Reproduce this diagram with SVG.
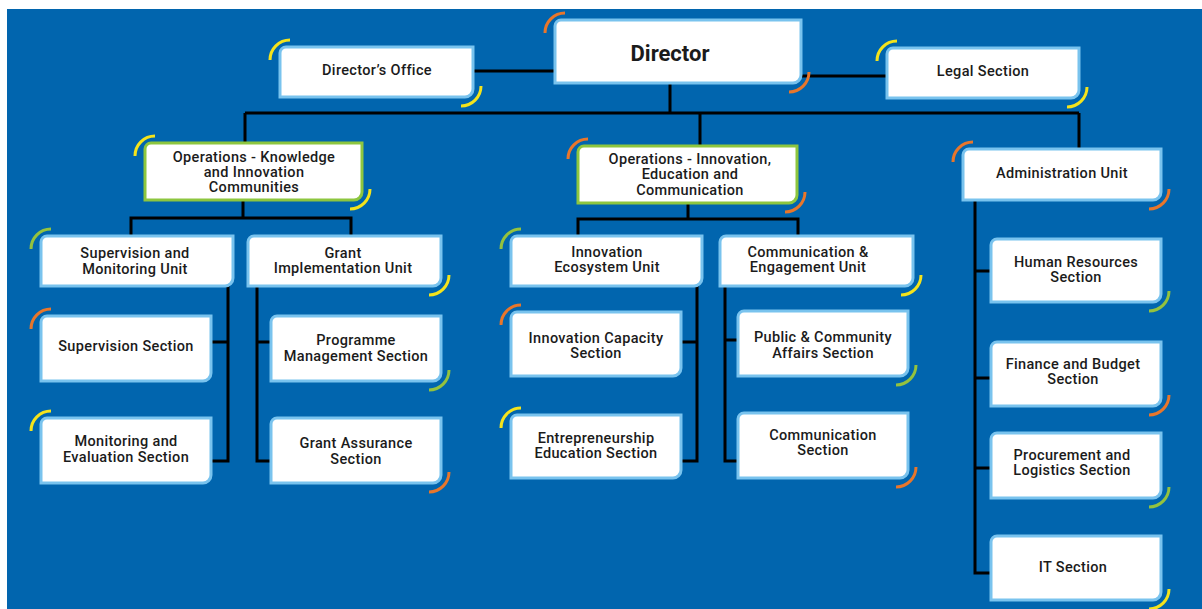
<svg xmlns="http://www.w3.org/2000/svg" width="1202" height="609" viewBox="0 0 1202 609">
  <style>
    .box { fill: #ffffff; stroke: #79c3ee; stroke-width: 3; }
    .box.ops { stroke: #8dc63f; }
    .lbl { font-family: Roboto, "Liberation Sans", sans-serif; font-weight: 500; font-size: 14.5px; letter-spacing: 0.35px; fill: #1b1b1b; text-anchor: middle; }
    .big { font-size: 22px; font-weight: 700; letter-spacing: 0; }
    .link { fill: none; stroke: #000000; stroke-width: 3; }
    .acc { fill: none; stroke-width: 3; stroke-linecap: butt; }
    .y { stroke: #f4e31c; }
    .o { stroke: #e8762b; }
    .g { stroke: #94c23e; }
  </style>

  <!-- page -->
  <rect x="0" y="0" width="1202" height="609" fill="#ffffff"/>
  <rect x="7" y="9" width="1195" height="600" fill="#0165ae"/>

  <!-- connectors -->
  <g id="connectors" class="link">
    <path d="M473,71 H555"/>
    <path d="M801,76 H887"/>
    <path d="M670,83 V113"/>
    <path d="M245,113 H1079"/>
    <path d="M245,113 V143"/>
    <path d="M700,113 V146"/>
    <path d="M1079,113 V149"/>
    <path d="M243,200 V218"/>
    <path d="M131,236 V218 H351 V236"/>
    <path d="M688,203 V219"/>
    <path d="M578,236 V219 H798 V236"/>
    <path d="M228,286 V461 H211"/>
    <path d="M211,342 H228"/>
    <path d="M257,286 V461 H271"/>
    <path d="M257,342 H271"/>
    <path d="M697,286 V461 H681"/>
    <path d="M681,342 H697"/>
    <path d="M725,286 V461 H738"/>
    <path d="M725,340 H738"/>
    <path d="M975,200 V573 H991"/>
    <path d="M975,271 H991"/>
    <path d="M975,378 H991"/>
    <path d="M975,468 H991"/>
  </g>

  <!-- nodes -->
  <g id="director">
    <path class="box" d="M561,20 H801 V75 A8,8 0 0 1 793,83 H555 V26 A6,6 0 0 1 561,20 Z"/>
    <path class="acc o" d="M545,33 A20,20 0 0 1 565,13"/>
    <path class="acc o" d="M809,72 A20,20 0 0 1 789,92"/>
    <text class="lbl big" x="670" y="61">Director</text>
  </g>

  <g id="directors-office">
    <path class="box" d="M286,47 H473 V89 A8,8 0 0 1 465,97 H280 V53 A6,6 0 0 1 286,47 Z"/>
    <path class="acc y" d="M270,60 A20,20 0 0 1 290,40"/>
    <path class="acc y" d="M481,86 A20,20 0 0 1 461,106"/>
    <text class="lbl" x="377" y="75">Director’s Office</text>
  </g>

  <g id="legal-section">
    <path class="box" d="M893,48 H1079 V90 A8,8 0 0 1 1071,98 H887 V54 A6,6 0 0 1 893,48 Z"/>
    <path class="acc y" d="M877,61 A20,20 0 0 1 897,41"/>
    <path class="acc y" d="M1087,87 A20,20 0 0 1 1067,107"/>
    <text class="lbl" x="983" y="76">Legal Section</text>
  </g>

  <g id="ops-kic">
    <path class="box ops" d="M151,143 H362 V192 A8,8 0 0 1 354,200 H145 V149 A6,6 0 0 1 151,143 Z"/>
    <path class="acc y" d="M135,156 A20,20 0 0 1 155,136"/>
    <path class="acc y" d="M370,189 A20,20 0 0 1 350,209"/>
    <text class="lbl" x="254" y="162">Operations - Knowledge</text>
    <text class="lbl" x="254" y="177">and Innovation</text>
    <text class="lbl" x="254" y="192">Communities</text>
  </g>

  <g id="ops-iec">
    <path class="box ops" d="M584,146 H797 V195 A8,8 0 0 1 789,203 H578 V152 A6,6 0 0 1 584,146 Z"/>
    <path class="acc o" d="M568,159 A20,20 0 0 1 588,139"/>
    <path class="acc o" d="M805,192 A20,20 0 0 1 785,212"/>
    <text class="lbl" x="690" y="164">Operations - Innovation,</text>
    <text class="lbl" x="690" y="179">Education and</text>
    <text class="lbl" x="690" y="195">Communication</text>
  </g>

  <g id="administration-unit">
    <path class="box" d="M969,149 H1161 V192 A8,8 0 0 1 1153,200 H963 V155 A6,6 0 0 1 969,149 Z"/>
    <path class="acc o" d="M953,162 A20,20 0 0 1 973,142"/>
    <path class="acc o" d="M1169,189 A20,20 0 0 1 1149,209"/>
    <text class="lbl" x="1062" y="178">Administration Unit</text>
  </g>

  <g id="supervision-monitoring-unit">
    <path class="box" d="M47,236 H233 V278 A8,8 0 0 1 225,286 H41 V242 A6,6 0 0 1 47,236 Z"/>
    <path class="acc g" d="M31,249 A20,20 0 0 1 51,229"/>
    <text class="lbl" x="135" y="258">Supervision and</text>
    <text class="lbl" x="135" y="274">Monitoring Unit</text>
  </g>

  <g id="grant-implementation-unit">
    <path class="box" d="M254,236 H441 V278 A8,8 0 0 1 433,286 H248 V242 A6,6 0 0 1 254,236 Z"/>
    <path class="acc y" d="M449,275 A20,20 0 0 1 429,295"/>
    <text class="lbl" x="343" y="258">Grant</text>
    <text class="lbl" x="343" y="273">Implementation Unit</text>
  </g>

  <g id="supervision-section">
    <path class="box" d="M47,316 H211 V373 A8,8 0 0 1 203,381 H41 V322 A6,6 0 0 1 47,316 Z"/>
    <path class="acc o" d="M31,329 A20,20 0 0 1 51,309"/>
    <text class="lbl" x="126" y="351">Supervision Section</text>
  </g>

  <g id="monitoring-evaluation-section">
    <path class="box" d="M47,418 H211 V475 A8,8 0 0 1 203,483 H41 V424 A6,6 0 0 1 47,418 Z"/>
    <path class="acc y" d="M31,431 A20,20 0 0 1 51,411"/>
    <text class="lbl" x="126" y="446">Monitoring and</text>
    <text class="lbl" x="126" y="462">Evaluation Section</text>
  </g>

  <g id="programme-management-section">
    <path class="box" d="M277,316 H441 V373 A8,8 0 0 1 433,381 H271 V322 A6,6 0 0 1 277,316 Z"/>
    <path class="acc g" d="M449,370 A20,20 0 0 1 429,390"/>
    <text class="lbl" x="356" y="345">Programme</text>
    <text class="lbl" x="356" y="361">Management Section</text>
  </g>

  <g id="grant-assurance-section">
    <path class="box" d="M277,418 H441 V475 A8,8 0 0 1 433,483 H271 V424 A6,6 0 0 1 277,418 Z"/>
    <path class="acc o" d="M449,472 A20,20 0 0 1 429,492"/>
    <text class="lbl" x="356" y="448">Grant Assurance</text>
    <text class="lbl" x="356" y="464">Section</text>
  </g>

  <g id="innovation-ecosystem-unit">
    <path class="box" d="M517,236 H702 V278 A8,8 0 0 1 694,286 H511 V242 A6,6 0 0 1 517,236 Z"/>
    <path class="acc g" d="M501,249 A20,20 0 0 1 521,229"/>
    <text class="lbl" x="607" y="257">Innovation</text>
    <text class="lbl" x="607" y="272">Ecosystem Unit</text>
  </g>

  <g id="communication-engagement-unit">
    <path class="box" d="M726,236 H913 V278 A8,8 0 0 1 905,286 H720 V242 A6,6 0 0 1 726,236 Z"/>
    <path class="acc y" d="M921,275 A20,20 0 0 1 901,295"/>
    <text class="lbl" x="808" y="257">Communication &amp;</text>
    <text class="lbl" x="808" y="272">Engagement Unit</text>
  </g>

  <g id="innovation-capacity-section">
    <path class="box" d="M517,312 H681 V368 A8,8 0 0 1 673,376 H511 V318 A6,6 0 0 1 517,312 Z"/>
    <path class="acc o" d="M501,325 A20,20 0 0 1 521,305"/>
    <text class="lbl" x="596" y="343">Innovation Capacity</text>
    <text class="lbl" x="596" y="358">Section</text>
  </g>

  <g id="entrepreneurship-education-section">
    <path class="box" d="M517,415 H681 V470 A8,8 0 0 1 673,478 H511 V421 A6,6 0 0 1 517,415 Z"/>
    <path class="acc y" d="M501,428 A20,20 0 0 1 521,408"/>
    <text class="lbl" x="596" y="443">Entrepreneurship</text>
    <text class="lbl" x="596" y="458">Education Section</text>
  </g>

  <g id="public-community-affairs-section">
    <path class="box" d="M744,311 H908 V368 A8,8 0 0 1 900,376 H738 V317 A6,6 0 0 1 744,311 Z"/>
    <path class="acc g" d="M916,365 A20,20 0 0 1 896,385"/>
    <text class="lbl" x="823" y="342">Public &amp; Community</text>
    <text class="lbl" x="823" y="358">Affairs Section</text>
  </g>

  <g id="communication-section">
    <path class="box" d="M744,413 H908 V470 A8,8 0 0 1 900,478 H738 V419 A6,6 0 0 1 744,413 Z"/>
    <path class="acc o" d="M916,467 A20,20 0 0 1 896,487"/>
    <text class="lbl" x="823" y="440">Communication</text>
    <text class="lbl" x="823" y="455">Section</text>
  </g>

  <g id="human-resources-section">
    <path class="box" d="M997,239 H1161 V294 A8,8 0 0 1 1153,302 H991 V245 A6,6 0 0 1 997,239 Z"/>
    <path class="acc g" d="M1169,291 A20,20 0 0 1 1149,311"/>
    <text class="lbl" x="1076" y="267">Human Resources</text>
    <text class="lbl" x="1076" y="282">Section</text>
  </g>

  <g id="finance-budget-section">
    <path class="box" d="M997,342 H1161 V398 A8,8 0 0 1 1153,406 H991 V348 A6,6 0 0 1 997,342 Z"/>
    <path class="acc o" d="M1169,395 A20,20 0 0 1 1149,415"/>
    <text class="lbl" x="1073" y="369">Finance and Budget</text>
    <text class="lbl" x="1073" y="384">Section</text>
  </g>

  <g id="procurement-logistics-section">
    <path class="box" d="M997,433 H1161 V490 A8,8 0 0 1 1153,498 H991 V439 A6,6 0 0 1 997,433 Z"/>
    <path class="acc g" d="M1169,487 A20,20 0 0 1 1149,507"/>
    <text class="lbl" x="1072" y="460">Procurement and</text>
    <text class="lbl" x="1072" y="475">Logistics Section</text>
  </g>

  <g id="it-section">
    <path class="box" d="M997,536 H1161 V592 A8,8 0 0 1 1153,600 H991 V542 A6,6 0 0 1 997,536 Z"/>
    <path class="acc y" d="M1169,589 A20,20 0 0 1 1149,609"/>
    <text class="lbl" x="1073" y="572">IT Section</text>
  </g>
</svg>
